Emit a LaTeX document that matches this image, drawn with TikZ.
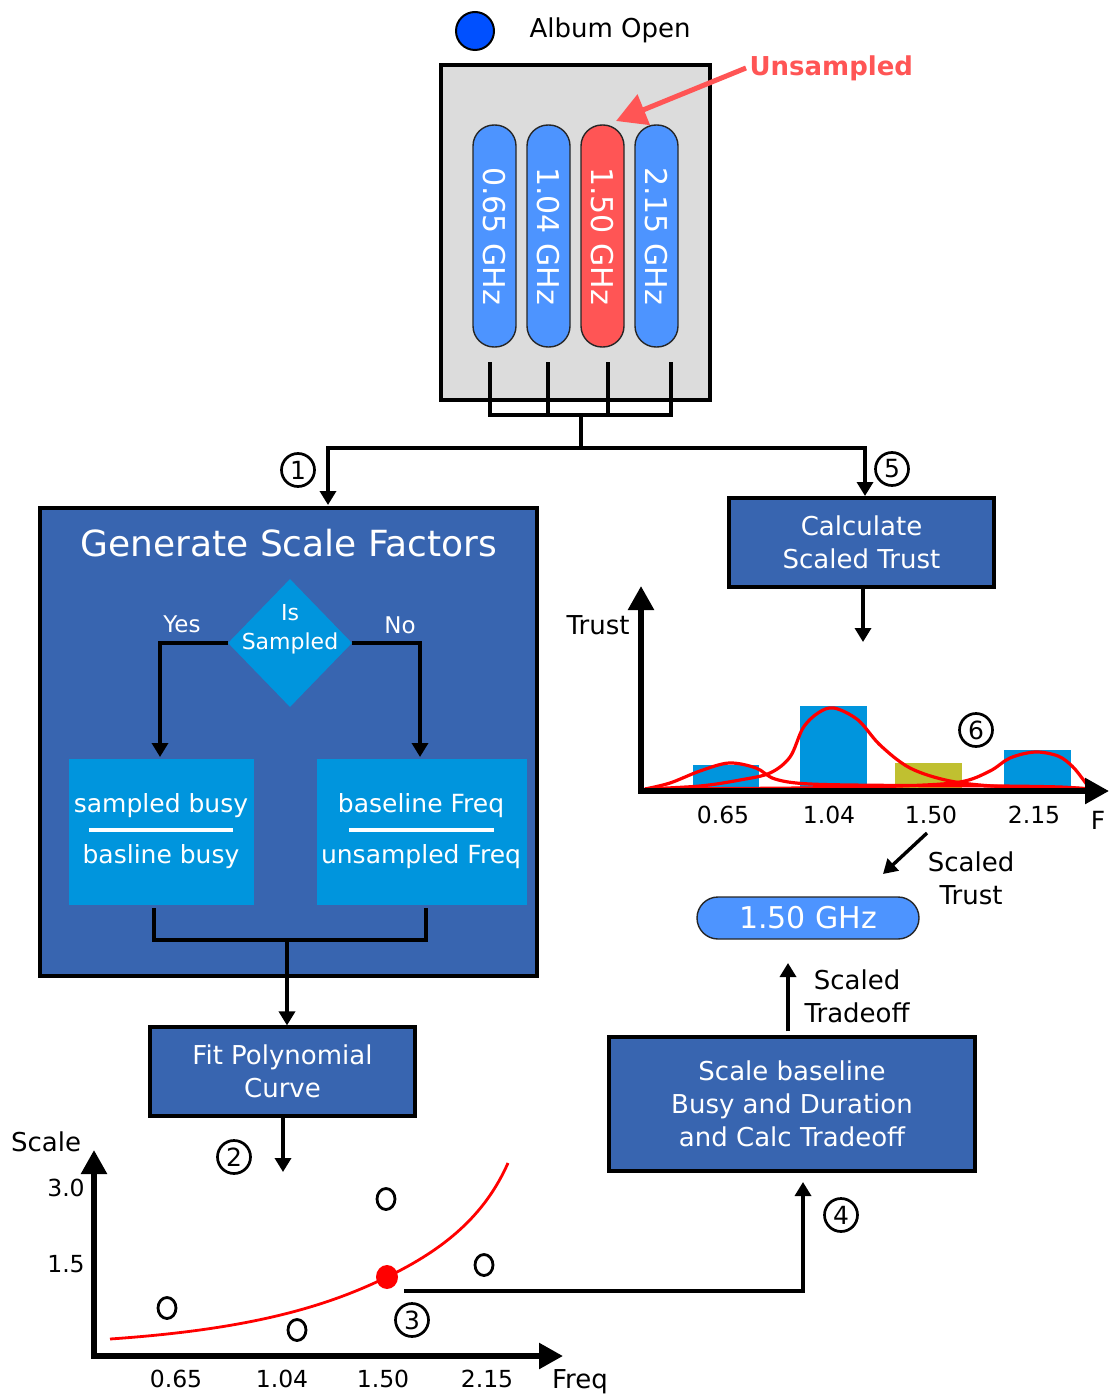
\documentclass[tikz,border=0pt]{standalone}
\usepackage{fontspec}
\setmainfont{DejaVu Sans}
\usetikzlibrary{arrows.meta,shapes.geometric}
\definecolor{darkbox}{RGB}{56,101,176}
\definecolor{lightbox}{RGB}{0,149,221}
\definecolor{pillblue}{RGB}{77,148,255}
\definecolor{pillred}{RGB}{255,85,85}
\definecolor{olivebar}{RGB}{192,192,48}
\definecolor{albumgray}{RGB}{220,220,220}
\definecolor{dotblue}{RGB}{0,80,255}
\begin{document}
\begin{tikzpicture}[x=1pt,y=-1pt,
  conn/.style={line width=3.4pt},
  arr/.style={line width=3.4pt,-{Triangle[width=16pt,length=14pt]}},
  axisline/.style={line width=5.5pt,{Triangle[width=25pt,length=24pt]}-{Triangle[width=25pt,length=24pt]}},
  procbox/.style={draw=black,line width=3.2pt,fill=darkbox,text=white,align=center,font=\fontsize{26}{33}\selectfont,inner sep=0pt},
  pillshape/.style={draw=black!85,line width=1.4pt,rounded corners=21pt,fill=pillblue,text=white,font=\fontsize{30}{30}\selectfont,inner sep=0pt},
  numc/.style={circle,draw,line width=2.7pt,inner sep=0pt,minimum size=33pt,font=\fontsize{25}{25}\selectfont},
  lbl/.style={font=\fontsize{26}{33}\selectfont,align=center},
  wlbl/.style={text=white,font=\fontsize{25}{25}\selectfont},
  tick/.style={font=\fontsize{23.5}{23.5}\selectfont},
  ptopen/.style={ellipse,draw,line width=2.8pt,minimum width=18pt,minimum height=21pt,inner sep=0pt},
  curve/.style={red,line width=3.2pt},
]
\useasboundingbox (0,0) rectangle (1112,1396);

% ---------- top: album ----------
\node[circle,draw,line width=2pt,fill=dotblue,minimum size=38pt,inner sep=0pt] (dot) at (475,31) {};
\node[anchor=west,font=\fontsize{26}{26}\selectfont] (albumlbl) at (526,30) {Album Open};
\node[draw,line width=4.5pt,fill=albumgray,minimum width=269pt,minimum height=335pt,inner sep=0pt] (album) at (575.5,232.5) {};
\node[pillshape,rotate=-90,minimum width=222pt,minimum height=43pt] (p1) at (494.5,236) {0.65 GHz};
\node[pillshape,rotate=-90,minimum width=222pt,minimum height=43pt] (p2) at (548.5,236) {1.04 GHz};
\node[pillshape,rotate=-90,minimum width=222pt,minimum height=43pt,fill=pillred] (p3) at (602.5,236) {1.50 GHz};
\node[pillshape,rotate=-90,minimum width=222pt,minimum height=43pt] (p4) at (656.5,236) {2.15 GHz};
\node[anchor=west,text=pillred,font=\bfseries\fontsize{26}{26}\selectfont] (unsamp) at (746,68) {Unsampled};
\draw[pillred,line width=5pt,-{Triangle[width=32pt,length=30pt]}] (unsamp.west) -- (616,121);

% bracket under pills
\coordinate (b1) at (490,362); \coordinate (b2) at (548,362);
\coordinate (b3) at (608,362); \coordinate (b4) at (671,362);
\coordinate (bj) at (581,415); \coordinate (split) at (581,448);
\draw[conn] (b1) -- (490,415) -- (671,415) -- (b4);
\draw[conn] (b2) -- (548,415);
\draw[conn] (b3) -- (608,415);
\draw[conn] (bj) -- (split);
\coordinate (toL) at (328,505); \coordinate (toR) at (865,496);
\draw[arr] (split) -| (toL);
\draw[arr] (split) -| (toR);
\node[numc] (n1) at (298,470) {1};
\node[numc] (n5) at (892,469) {5};

% ---------- Generate Scale Factors ----------
\node[procbox,minimum width=497pt,minimum height=468pt] (gsf) at (288.5,742) {};
\node[text=white,font=\fontsize{36}{36}\selectfont] (gsftitle) at (289,543) {Generate Scale Factors};
\node[diamond,fill=lightbox,minimum width=124pt,minimum height=128pt,inner sep=0pt] (dia) at (290,643) {};
\node[text=white,align=center,font=\fontsize{22}{29}\selectfont] (diatext) at (290,629) {Is\\Sampled};
\node[text=white,font=\fontsize{23}{23}\selectfont] (yes) at (182,624) {Yes};
\node[text=white,font=\fontsize{23}{23}\selectfont] (no) at (400,625) {No};
\node[fill=lightbox,minimum width=185pt,minimum height=146pt,inner sep=0pt] (lb) at (161.5,832) {};
\node[fill=lightbox,minimum width=210pt,minimum height=146pt,inner sep=0pt] (rb) at (422,832) {};
\coordinate (lbin) at (160,757); \coordinate (rbin) at (420,757);
\draw[arr] (dia.west) -| (lbin);
\draw[arr] (dia.east) -| (rbin);
\node[wlbl] (lt) at (161,806) {sampled busy};
\draw[white,line width=4pt] (89,830) -- (233,830);
\node[wlbl] (lbt) at (161,857) {basline busy};
\node[wlbl] (rt) at (421,806) {baseline Freq};
\draw[white,line width=4pt] (349,830) -- (494,830);
\node[wlbl] (rbt) at (421,857) {unsampled Freq};
\coordinate (lo1) at (154,908); \coordinate (lo2) at (426,908);
\coordinate (lj) at (287,940);
\draw[conn] (lo1) -- (154,940) -- (426,940) -- (lo2);

% ---------- Fit polynomial ----------
\node[procbox,minimum width=265pt,minimum height=89pt] (fit) at (282.5,1071.5) {Fit Polynomial\\Curve};
\draw[arr] (lj) -- (lj |- fit.north);
\coordinate (fitout) at (283,1172);
\draw[arr] (fit.south -| fitout) -- (fitout);
\node[numc] (n2) at (234,1157) {2};

% ---------- Scale chart ----------
\coordinate (sy) at (94,1150); \coordinate (so) at (94,1356); \coordinate (sx) at (563,1356);
\draw[axisline] (sy) -- (so) -- (sx);
\node[font=\fontsize{26}{26}\selectfont] (scalelbl) at (46,1142) {Scale};
\node[tick] (t30) at (66,1188) {3.0};
\node[tick] (t15) at (66,1264) {1.5};
\node[tick] (x1) at (176,1379) {0.65};
\node[tick] (x2) at (282,1379) {1.04};
\node[tick] (x3) at (383,1379) {1.50};
\node[tick] (x4) at (487,1379) {2.15};
\node[font=\fontsize{26}{26}\selectfont] (freqlbl) at (580,1382) {Freq};
\draw[curve,line width=2.8pt] (110,1339) .. controls (240,1330) and (320,1310) .. (387,1277) .. controls (445,1249) and (485,1215) .. (508,1163);
\node[ptopen] (o1) at (167,1308) {};
\node[ptopen] (o2) at (297,1330) {};
\node[ptopen] (o3) at (386,1199) {};
\node[ptopen] (o4) at (484,1265) {};
\node[ellipse,fill=red,minimum width=22pt,minimum height=24pt,inner sep=0pt] (rdot) at (387,1277) {};
\node[numc] (n3) at (412,1320) {3};
\coordinate (s3) at (404,1291); \coordinate (s4) at (803,1182);
\draw[arr] (s3) -| (s4);
\node[numc] (n4) at (841,1215) {4};

% ---------- Scale baseline box ----------
\node[procbox,minimum width=366pt,minimum height=134pt] (sbb) at (792,1104) {Scale baseline\\Busy and Duration\\and Calc Tradeoff};
\coordinate (up1) at (788,963);
\draw[arr] (sbb.north -| up1) ++(0,-4) -- (up1);
\node[lbl] (tradelbl) at (857,996) {Scaled\\Tradeoff};
\node[pillshape,minimum width=222pt,minimum height=42pt] (res) at (808,918) {1.50 GHz};
\coordinate (st1) at (927,833); \coordinate (st2) at (883,874);
\draw[arr] (st1) -- (st2);
\node[lbl] (trustlbl2) at (971,878) {Scaled\\Trust};

% ---------- Calculate Scaled Trust ----------
\node[procbox,minimum width=265pt,minimum height=89pt] (cst) at (861.5,542.5) {Calculate\\Scaled Trust};
\coordinate (cout) at (863,642);
\draw[arr] (cst.south -| cout) -- (cout);

% ---------- Trust chart ----------
\fill[lightbox] (693,765) rectangle (759,789);
\fill[lightbox] (800,706) rectangle (867,789);
\fill[olivebar] (895,763) rectangle (962,789);
\fill[lightbox] (1004,750) rectangle (1071,789);
\draw[curve,smooth,tension=0.55] plot coordinates {(645,789) (670,783) (700,771) (729,763) (756,768) (775,779) (810,784) (900,785.5) (1000,786) (1060,787) (1090,789)};
\draw[curve,smooth,tension=0.55] plot coordinates {(645,789) (700,786) (740,780) (770,773) (790,757) (803,728) (818,713) (834,708) (858,720) (880,745) (910,768) (950,781) (1000,786.5) (1060,787.5) (1090,789)};
\draw[curve,smooth,tension=0.55] plot coordinates {(645,789) (800,788) (900,786) (960,782) (990,771) (1010,758) (1035,752) (1058,756) (1072,766) (1082,778) (1090,789)};
\coordinate (ty) at (641,586); \coordinate (to) at (641,791); \coordinate (tx) at (1109,791);
\draw[axisline] (ty) -- (to) -- (tx);
\node[font=\fontsize{26}{26}\selectfont] (trustlbl) at (598,625) {Trust};
\node[tick] (u1) at (723,815) {0.65};
\node[tick] (u2) at (829,815) {1.04};
\node[tick] (u3) at (931,815) {1.50};
\node[tick] (u4) at (1034,815) {2.15};
\node[font=\fontsize{25}{25}\selectfont] (flbl) at (1098,820) {F};
\node[numc] (n6) at (976,730) {6};
\end{tikzpicture}
\end{document}
